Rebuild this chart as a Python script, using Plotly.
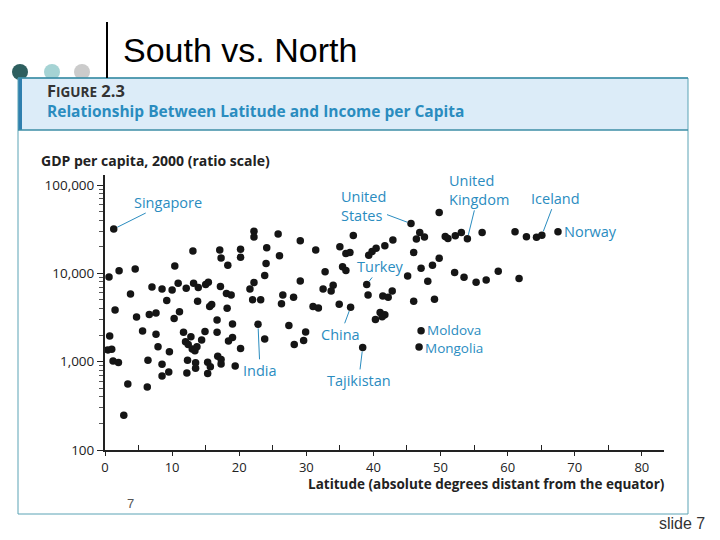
import math
import plotly.graph_objects as go

# ---------------- data ----------------
label_names = ["Singapore", "United<br>States", "United<br>Kingdom", "Iceland", "Norway",
               "Turkey", "China", "India", "Tajikistan", "Moldova", "Mongolia"]
label_lat = [1.3, 45.6, 54.0, 65.1, 67.5, 39.0, 36.6, 22.8, 38.4, 47.1, 46.8]
label_gdp = [31800, 36600, 24600, 27100, 29700, 7500, 4130, 2650, 1450, 2240, 1470]

other_lat = [0.6, 2.1, 4.5, 1.5, 3.8, 4.7, 6.6, 7.6, 7.0, 8.5, 9.2, 10.0, 10.4, 10.9, 11.1,
             10.3, 12.1, 13.1, 13.2, 13.9, 13.8, 15.0, 15.4, 15.6, 15.9, 0.7, 5.6, 7.6, 11.7,
             12.0, 12.4, 12.8, 14.9, 14.4, 0.4, 1.0, 7.9, 9.6, 13.0, 13.4, 13.7, 1.2, 2.0,
             6.4, 8.5, 12.3, 13.5, 13.5, 15.3, 15.7, 8.5, 9.5, 12.2, 15.3, 3.4, 6.3, 2.8,
             16.7, 16.7, 19.0, 19.0, 18.4, 23.8, 20.2, 16.8, 17.3, 17.3, 19.4, 17.1, 17.3,
             18.3, 17.2, 18.1, 18.8, 18.2, 20.2, 20.2, 22.2, 22.2, 22.2, 21.6, 22.0, 23.2,
             24.1, 24.0, 23.8, 25.8, 26.0, 26.5, 26.3, 28.1, 27.4, 29.1, 29.1, 29.9, 29.6,
             28.2, 31.4, 31.0, 31.8, 32.8, 32.5, 34.0, 33.7, 35.0, 35.4, 35.9, 35.9, 36.5,
             37.0, 34.9, 39.3, 39.8, 40.4, 41.7, 42.9, 39.2, 41.4, 42.2, 42.8, 45.1, 41.0,
             41.7, 41.3, 40.3, 46.0, 46.0, 49.8, 46.9, 47.6, 46.4, 50.7, 51.1, 52.2, 53.1,
             56.2, 61.1, 62.8, 64.3, 49.8, 48.8, 47.1, 48.1, 52.1, 53.5, 55.3, 56.8, 58.6,
             61.7, 49.1]
other_gdp = [9080, 10700, 11200, 3840, 5840, 3210, 3430, 3560, 7000, 6650, 4930, 6480, 12100,
             7710, 3680, 3080, 6790, 17900, 7710, 6920, 4830, 7500, 7960, 4220, 4440, 1950,
             2230, 2040, 2150, 1680, 1570, 1920, 2200, 1760, 1360, 1380, 1480, 1300, 1390,
             1330, 1480, 1020, 980, 1040, 935, 1040, 975, 841, 985, 878, 689, 764, 745, 735,
             558, 516, 248, 2970, 2150, 2670, 1880, 1710, 1810, 1410, 1150, 1060, 942, 894,
             18400, 14900, 12400, 7090, 5910, 5680, 4030, 18700, 15200, 29900, 25900, 7870,
             6640, 5020, 5020, 19500, 12900, 9490, 27900, 15800, 5680, 4520, 5350, 2570,
             23400, 8220, 2170, 1740, 1570, 18400, 4220, 4060, 10400, 6640, 7360, 6300, 20000,
             11900, 10800, 16800, 17200, 26800, 4470, 16000, 17700, 19200, 20500, 23900, 5680,
             5560, 5350, 6300, 9310, 3610, 3410, 3230, 3010, 17200, 4830, 48900, 29000, 25900,
             24500, 26100, 24800, 26600, 29000, 29000, 29700, 26000, 25700, 14800, 12400,
             11400, 8150, 10200, 9030, 7910, 8390, 10600, 8770, 5080]

x_ticks = [0, 10, 20, 30, 40, 50, 60, 70, 80]
y_ticks = [100, 1000, 10000, 100000]
y_tick_text = ["100", "1,000", "10,000", "100,000"]

# ---------------- layout helpers ----------------
OFF = 8                      # page body margin of the browser
W, H = 720 - OFF, 540 - OFF
L, R, T, B = 105 - OFF, 664 - OFF, 175 - OFF, 450 - OFF


def px(x):
    return (x - OFF - L) / (R - L)


def py(y):
    return (B - (y - OFF)) / (B - T)


TEAL = "#2a8cbf"
FONT = "Open Sans"
DOT = "#151515"

fig = go.Figure()
fig.add_trace(go.Scatter(x=other_lat, y=other_gdp, mode="markers",
                         marker=dict(size=7.5, color=DOT), hoverinfo="skip"))
fig.add_trace(go.Scatter(x=label_lat, y=label_gdp, mode="markers",
                         marker=dict(size=7.5, color=DOT), hoverinfo="skip"))

offsets = {
    "Singapore": (54, -27),
    "United<br>States": (-48, -18),
    "United<br>Kingdom": (12, -49),
    "Iceland": (14, -37),
    "Turkey": (14, -18),
    "China": (-10, 27),
    "India": (2, 46),
    "Tajikistan": (-4, 33),
}
side = {"Norway": 0, "Moldova": 1, "Mongolia": -1}
LBL = 14.5

annotations = []
for name, la, g in zip(label_names, label_lat, label_gdp):
    if name in side:
        annotations.append(dict(x=la, y=math.log10(g), xref="x", yref="y", text=name,
                                showarrow=False, xanchor="left", yanchor="middle",
                                xshift=5, yshift=side[name], align="left", borderpad=0,
                                font=dict(family=FONT, size=LBL if name == "Norway" else 13.5,
                                          color=TEAL)))
    else:
        ax, ay = offsets[name]
        annotations.append(dict(x=la, y=math.log10(g), xref="x", yref="y", text=name,
                                showarrow=True, arrowhead=0, arrowwidth=1, arrowcolor=TEAL,
                                ax=ax, ay=ay, standoff=4, align="left", borderpad=1,
                                font=dict(family=FONT, size=LBL, color=TEAL)))

annotations += [
    dict(x=px(121), y=py(50), xref="paper", yref="paper", text="South vs. North",
         showarrow=False, xanchor="left", yanchor="middle",
         font=dict(family="Liberation Sans", size=34, color="#000000")),
    dict(x=px(46), y=py(90), xref="paper", yref="paper",
         text="<b>F<span style='font-size:13.5px'>IGURE</span> 2.3</b>",
         showarrow=False, xanchor="left", yanchor="middle", borderpad=0,
         font=dict(family=FONT, size=16.5, color="#333333")),
    dict(x=px(46), y=py(111), xref="paper", yref="paper",
         text="<b>Relationship Between Latitude and Income per Capita</b>",
         showarrow=False, xanchor="left", yanchor="middle", borderpad=0,
         font=dict(family=FONT, size=15.5, color=TEAL)),
    dict(x=px(39), y=py(160), xref="paper", yref="paper",
         text="<b>GDP per capita, 2000 (ratio scale)</b>",
         showarrow=False, xanchor="left", yanchor="middle",
         font=dict(family=FONT, size=14, color="#222222")),
    dict(x=px(666), y=py(484), xref="paper", yref="paper",
         text="<b>Latitude (absolute degrees distant from the equator)</b>",
         showarrow=False, xanchor="right", yanchor="middle", borderpad=0,
         font=dict(family=FONT, size=13.5, color="#222222")),
    dict(x=px(130), y=py(503), xref="paper", yref="paper", text="7",
         showarrow=False, xanchor="center", yanchor="middle",
         font=dict(family="Liberation Sans", size=13, color="#555555")),
    dict(x=px(707), y=py(523), xref="paper", yref="paper", text="slide 7",
         showarrow=False, xanchor="right", yanchor="middle",
         font=dict(family="Liberation Sans", size=16, color="#333333")),
]


def circle(cx, cy, r, color):
    return dict(type="circle", xref="paper", yref="paper", layer="below",
                x0=px(cx - r), x1=px(cx + r), y0=py(cy + r), y1=py(cy - r),
                fillcolor=color, line=dict(width=0))


shapes = [
    circle(20, 72, 8, "#2e5f5f"),
    circle(52, 72, 8, "#a5d3d4"),
    circle(82, 72, 8, "#cbcbcb"),
    dict(type="rect", xref="paper", yref="paper", layer="below",
         x0=px(18), x1=px(688), y0=py(130), y1=py(78),
         fillcolor="#dcecf8", line=dict(width=0)),
    dict(type="rect", xref="paper", yref="paper", layer="below",
         x0=px(18), x1=px(22), y0=py(130), y1=py(78),
         fillcolor="#2f7fae", line=dict(width=0)),
    dict(type="rect", xref="paper", yref="paper", layer="below",
         x0=px(18), x1=px(688), y0=py(514), y1=py(78),
         fillcolor="rgba(0,0,0,0)", line=dict(width=1, color="#5aa3b5")),
    dict(type="line", xref="paper", yref="paper", layer="below",
         x0=px(18), x1=px(688), y0=py(78), y1=py(78),
         line=dict(width=1.5, color="#3d8ea6")),
    dict(type="line", xref="paper", yref="paper", layer="below",
         x0=px(18), x1=px(688), y0=py(130), y1=py(130),
         line=dict(width=1.5, color="#3d8ea6")),
    dict(type="line", xref="paper", yref="paper", layer="below",
         x0=px(107), x1=px(107), y0=py(78), y1=py(22),
         line=dict(width=2, color="#000000")),
]

minor_y = [m * 10 ** e for e in (2, 3, 4) for m in range(2, 10)]

fig.update_layout(
    width=W, height=H,
    margin=dict(l=L, r=W - R, t=T, b=H - B, pad=0),
    paper_bgcolor="#ffffff", plot_bgcolor="rgba(0,0,0,0)",
    showlegend=False,
    annotations=annotations, shapes=shapes,
    xaxis=dict(range=[0, 83.3], showgrid=False, zeroline=False, showline=True,
               linecolor="#222222", linewidth=2, ticks="outside", ticklen=4,
               tickwidth=1, tickcolor="#222222", tickvals=x_ticks,
               tickfont=dict(family=FONT, size=13, color="#222222"),
               minor=dict(tickvals=[5, 15, 25, 35, 45, 55, 65, 75], ticks="inside",
                          ticklen=5, tickcolor="#222222", showgrid=False)),
    yaxis=dict(type="log", range=[2, 5.114], showgrid=False, zeroline=False,
               showline=True, linecolor="#222222", linewidth=2, ticks="outside",
               ticklen=6, tickwidth=1, tickcolor="#222222",
               tickvals=y_ticks, ticktext=y_tick_text,
               tickfont=dict(family=FONT, size=13.5, color="#222222"),
               minor=dict(tickvals=minor_y, ticks="outside", ticklen=4,
                          tickcolor="#555555", showgrid=False)),
)

fig.write_html("out.html")
